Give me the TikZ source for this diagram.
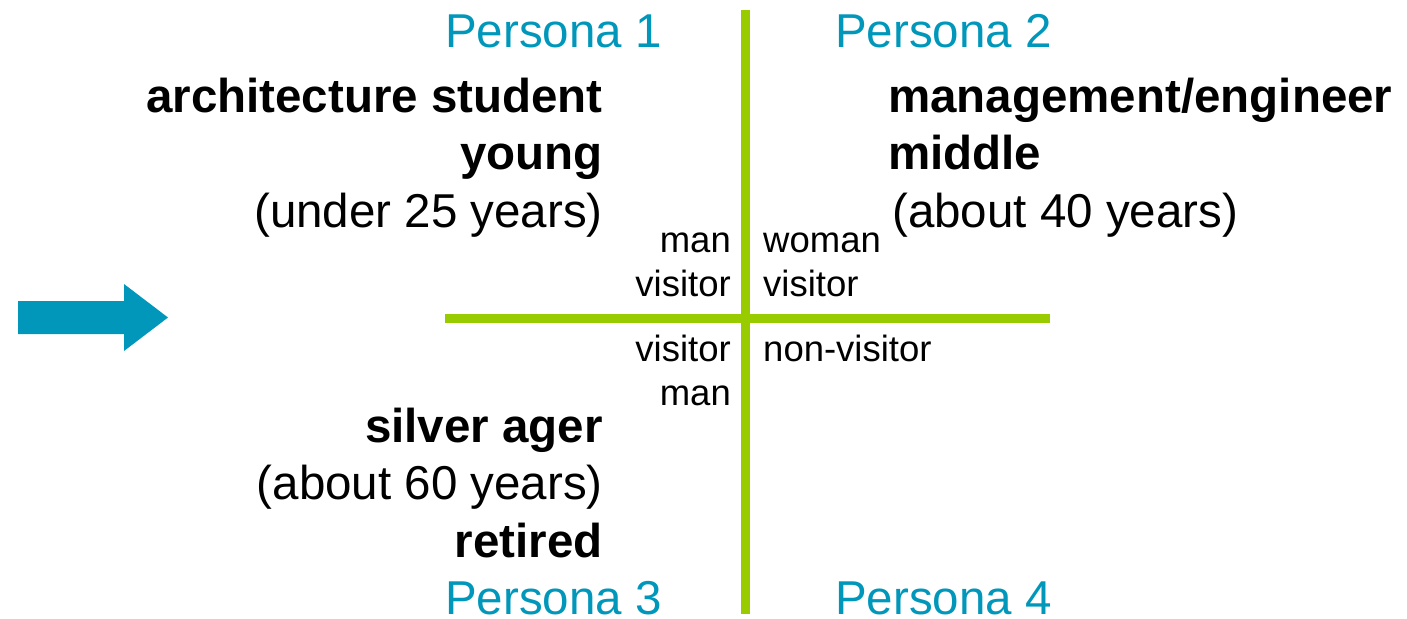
\documentclass[tikz,border=0pt]{standalone}
\usepackage{fontspec}
\setmainfont{Liberation Sans}
\usepackage{xcolor}
\usepackage{tikz}
\usetikzlibrary{positioning}
\definecolor{clrT}{RGB}{0,151,186}
\definecolor{clrLG}{RGB}{153,204,0}
\tikzset{
  persona/.style={font=\fontsize{47.5}{57.5}\selectfont,text=clrT,inner sep=0pt},
  profile/.style={font=\fontsize{47.5}{57.5}\selectfont,inner sep=0pt},
  tag/.style={font=\fontsize{36.5}{44}\selectfont,inner sep=0pt},
  axis/.style={draw=clrLG,line width=9pt}
}

\begin{document}
\begin{tikzpicture}[x=1pt,y=-1pt]
  \useasboundingbox (0,0) rectangle (1407,618);

  \coordinate (vtop) at (745.5,10);
  \coordinate (vbot) at (745.5,614);
  \coordinate (hleft) at (445,318.5);
  \coordinate (hright) at (1050,318.5);
  \draw[axis] (vtop) -- (vbot);
  \draw[axis] (hleft) -- (hright);

  \fill[clrT] (18,301) -- (124,301) -- (124,284) -- (168,317.5)
    -- (124,351) -- (124,334) -- (18,334) -- cycle;

  \node[persona,anchor=base east] (p1) at (662,48) {Persona 1};
  \node[persona,anchor=base west] (p2) at (835,48) {Persona 2};
  \node[persona,anchor=base east] (p3) at (662,614) {Persona 3};
  \node[persona,anchor=base west] (p4) at (835,614) {Persona 4};

  % multi-line nodes sit on the baseline of their last line
  \node[profile,anchor=base east,align=right] (student) at (603,227)
    {\textbf{architecture student}\\\textbf{young}\\(under 25 years)};
  \node[profile,anchor=base west,align=left] (engineer) at (888,227)
    {\textbf{management/engineer}\\\textbf{middle}\\\hspace{4pt}(about 40 years)};
  \node[profile,anchor=base east,align=right] (silver) at (603,557)
    {\textbf{silver ager}\\(about 60 years)\\\textbf{retired}};

  \node[tag,anchor=base east,align=right] (t1) at (731,296) {man\\visitor};
  \node[tag,anchor=base west,align=left] (t2) at (763,296) {woman\\visitor};
  \node[tag,anchor=base east,align=right] (t3) at (731,405) {visitor\\man};
  \node[tag,anchor=base west,align=left] (t4) at (763,361) {non-visitor};
\end{tikzpicture}
\end{document}
